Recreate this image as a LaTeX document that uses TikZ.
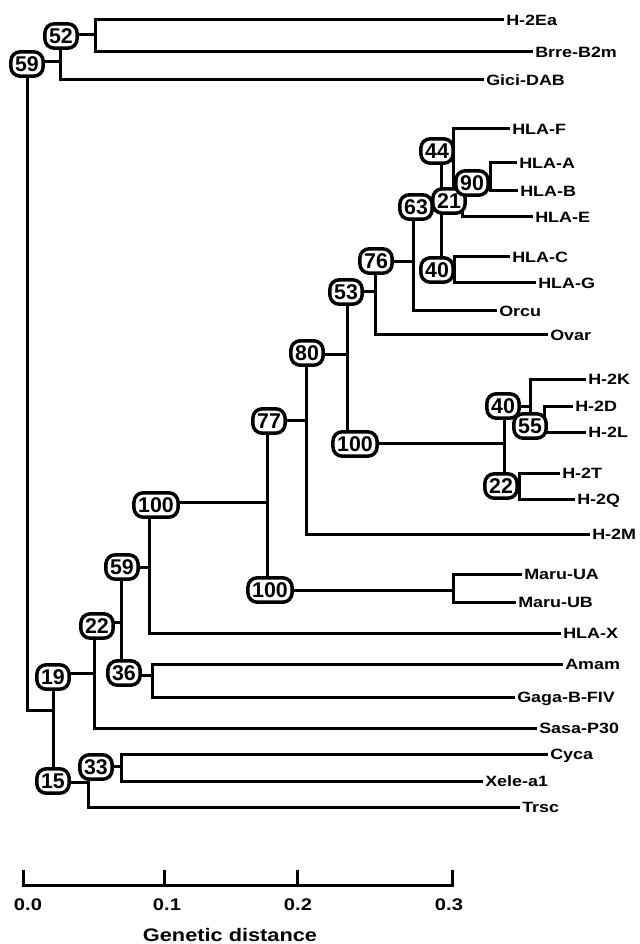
\documentclass[tikz,border=0pt]{standalone}
\usepackage{fontspec}
\setmainfont{Liberation Sans}
\newfontfamily\labfont{Liberation Sans}[FakeStretch=1.2]
\newfontfamily\numfont{Liberation Sans}
\newcommand\tbranch[3]{\draw[branch] (#2) -| (#1) |- (#3);}
\begin{document}
\begin{tikzpicture}[x=0.75pt,y=-0.75pt,
  branch/.style={line width=2.25pt},
  leaf/.style={anchor=west, font=\labfont\bfseries\fontsize{11.2}{12}\selectfont, inner xsep=1.5pt, inner ysep=0pt, text height=8pt, text depth=0pt},
  bs/.style={draw, fill=white, line width=2.6pt, rounded corners=7pt, font=\numfont\bfseries\fontsize{16}{16}\selectfont, inner xsep=3.2pt, inner ysep=3.4pt, text height=11.5pt, text depth=0pt},
  ticklab/.style={font=\labfont\bfseries\fontsize{12.6}{13}\selectfont, inner sep=0pt, text height=9pt, text depth=0pt},
  axlab/.style={font=\labfont\bfseries\fontsize{13.6}{14}\selectfont, inner sep=0pt, text height=9.75pt, text depth=0pt}]
\useasboundingbox (0,0) rectangle (639,944);
% leaves
\node[leaf] (hea)  at (504,20)  {H-2Ea};
\node[leaf] (brre) at (533,52)  {Brre-B2m};
\node[leaf] (gici) at (484,80)  {Gici-DAB};
\node[leaf] (hlaf) at (510,129) {HLA-F};
\node[leaf] (hlaa) at (517,163) {HLA-A};
\node[leaf] (hlab) at (518,191) {HLA-B};
\node[leaf] (hlae) at (533,217) {HLA-E};
\node[leaf] (hlac) at (510,257) {HLA-C};
\node[leaf] (hlag) at (536,283) {HLA-G};
\node[leaf] (orcu) at (497,311) {Orcu};
\node[leaf] (ovar) at (548,335) {Ovar};
\node[leaf] (htk)  at (586,379) {H-2K};
\node[leaf] (htd)  at (573,406) {H-2D};
\node[leaf] (htl)  at (586,432) {H-2L};
\node[leaf] (htt)  at (560,473) {H-2T};
\node[leaf] (htq)  at (575,499) {H-2Q};
\node[leaf] (htm)  at (590,534) {H-2M};
\node[leaf] (maua) at (522,574) {Maru-UA};
\node[leaf] (maub) at (516,602) {Maru-UB};
\node[leaf] (hlax) at (561,633) {HLA-X};
\node[leaf] (amam) at (563,664) {Amam};
\node[leaf] (gaga) at (515,697) {Gaga-B-FIV};
\node[leaf] (sasa) at (537,728) {Sasa-P30};
\node[leaf] (cyca) at (548,754) {Cyca};
\node[leaf] (xele) at (483,781) {Xele-a1};
\node[leaf] (trsc) at (520,807) {Trsc};
% internal nodes
\coordinate (r)    at (27,300);
\coordinate (v2)   at (60,62);
\coordinate (v1)   at (95,35);
\coordinate (n19)  at (53,710);
\coordinate (n22)  at (94,673);
\coordinate (n59)  at (121,622);
\coordinate (na)   at (149,567);
\coordinate (nJ)   at (267,502);
\coordinate (nI)   at (306,420);
\coordinate (nH)   at (347,354);
\coordinate (nG)   at (375,292);
\coordinate (nF)   at (413,262);
\coordinate (nD)   at (441,207);
\coordinate (nA)   at (453,151);
\coordinate (nB)   at (462,200);
\coordinate (nC)   at (490,182);
\coordinate (nE)   at (454,270);
\coordinate (nHt)  at (504,443);
\coordinate (nL)   at (530,406);
\coordinate (nM)   at (544,419);
\coordinate (nTQ)  at (519,486);
\coordinate (nK)   at (453,590);
\coordinate (n36)  at (152,675);
\coordinate (n15)  at (88,782);
\coordinate (n33)  at (121,766);
% branches
\tbranch{r}{v2}{n19}
\tbranch{v2}{v1}{gici.west}
\tbranch{v1}{hea.west}{brre.west}
\tbranch{n19}{n22}{n15}
\tbranch{n22}{n59}{sasa.west}
\tbranch{n59}{na}{n36}
\tbranch{na}{nJ}{hlax.west}
\tbranch{nJ}{nI}{nK}
\tbranch{nI}{nH}{htm.west}
\tbranch{nH}{nG}{nHt}
\tbranch{nG}{nF}{ovar.west}
\tbranch{nF}{nD}{orcu.west}
\tbranch{nD}{nA}{nE}
\tbranch{nA}{hlaf.west}{nB}
\tbranch{nB}{nC}{hlae.west}
\tbranch{nC}{hlaa.west}{hlab.west}
\tbranch{nE}{hlac.west}{hlag.west}
\tbranch{nHt}{nL}{nTQ}
\tbranch{nL}{htk.west}{nM}
\tbranch{nM}{htd.west}{htl.west}
\tbranch{nTQ}{htt.west}{htq.west}
\tbranch{nK}{maua.west}{maub.west}
\tbranch{n36}{amam.west}{gaga.west}
\tbranch{n15}{n33}{trsc.west}
\tbranch{n33}{cyca.west}{xele.west}
% bootstrap boxes
\node[bs] (b52)  at (61,36)   {52};
\node[bs] (b59)  at (27,64)   {59};
\node[bs] (b44)  at (437,151) {44};
\node[bs] (b21)  at (449,201) {21};
\node[bs] (b90)  at (472,183) {90};
\node[bs] (b63)  at (416,207) {63};
\node[bs] (b40a) at (437,270) {40};
\node[bs] (b76)  at (376,261) {76};
\node[bs] (b53)  at (346,292) {53};
\node[bs] (b80)  at (307,353) {80};
\node[bs] (b40b) at (503,406) {40};
\node[bs] (b55)  at (530,426) {55};
\node[bs] (b22b) at (501,486) {22};
\node[bs] (b100h) at (355,444) {100};
\node[bs] (b77)  at (269,421) {77};
\node[bs] (b100a) at (156,505) {100};
\node[bs] (b100k) at (270,590) {100};
\node[bs] (b59b) at (122,567) {59};
\node[bs] (b22)  at (97,626)  {22};
\node[bs] (b36)  at (124,673) {36};
\node[bs] (b19)  at (53,677)  {19};
\node[bs] (b15)  at (53,781)  {15};
\node[bs] (b33)  at (96,767)  {33};
% scale bar
\coordinate (s0) at (23,885);
\coordinate (s1) at (164,885);
\coordinate (s2) at (297,885);
\coordinate (s3) at (452,885);
\draw[branch] ([yshift=15*0.75pt]s0) -- (s0) -- (s3) -- ([yshift=15*0.75pt]s3);
\draw[branch] (s1) -- ([yshift=15*0.75pt]s1);
\draw[branch] (s2) -- ([yshift=15*0.75pt]s2);
\node[ticklab] (t0) at (28,904)  {0.0};
\node[ticklab] (t1) at (167,904) {0.1};
\node[ticklab] (t2) at (298,904) {0.2};
\node[ticklab] (t3) at (449,904) {0.3};
\node[axlab] (gd) at (230,935) {Genetic distance};
\end{tikzpicture}
\end{document}
